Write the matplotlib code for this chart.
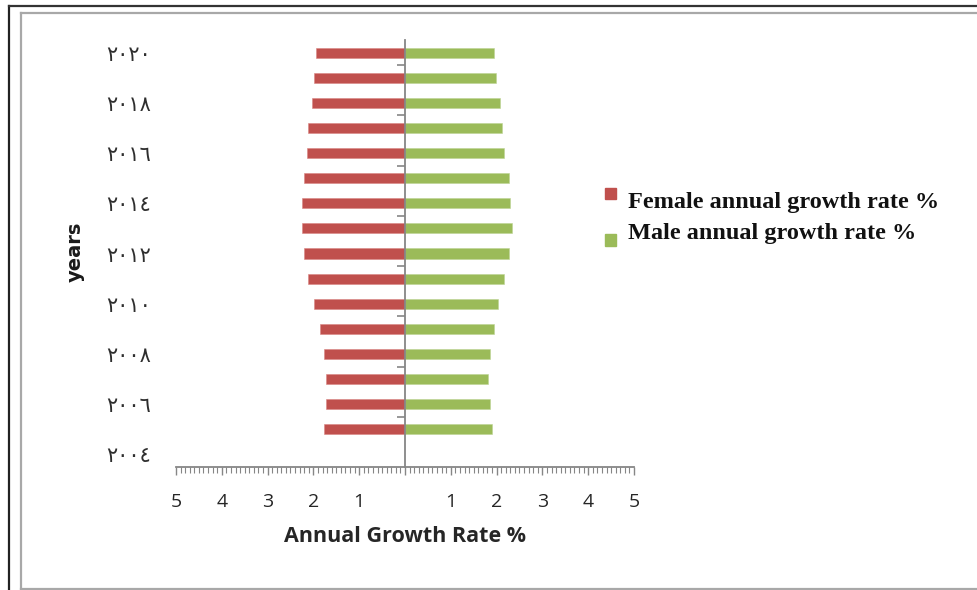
import matplotlib
matplotlib.use("Agg")
import matplotlib.pyplot as plt
import numpy as np
from matplotlib.lines import Line2D
from matplotlib.patches import Rectangle

# Categories (years) and their Arabic-Indic labels
years = [2004, 2005, 2006, 2007, 2008, 2009, 2010, 2011, 2012,
         2013, 2014, 2015, 2016, 2017, 2018, 2019, 2020]
year_labels = ["٢٠٠٤", "٢٠٠٥", "٢٠٠٦", "٢٠٠٧", "٢٠٠٨", "٢٠٠٩", "٢٠١٠", "٢٠١١", "٢٠١٢",
               "٢٠١٣", "٢٠١٤", "٢٠١٥", "٢٠١٦", "٢٠١٧", "٢٠١٨", "٢٠١٩", "٢٠٢٠"]

# Annual growth rates (%); 2004 has no value
female_rate = [np.nan, 1.76, 1.72, 1.72, 1.76, 1.85, 1.98, 2.11, 2.20,
               2.24, 2.24, 2.20, 2.15, 2.11, 2.02, 1.98, 1.94]
male_rate = [np.nan, 1.91, 1.86, 1.82, 1.86, 1.95, 2.04, 2.17, 2.26,
             2.34, 2.30, 2.26, 2.17, 2.12, 2.08, 1.99, 1.95]

x_ticks = [-5, -4, -3, -2, -1, 0, 1, 2, 3, 4, 5]
x_tick_labels = ["5", "4", "3", "2", "1", "", "1", "2", "3", "4", "5"]

series_labels = ["Female annual growth rate %", "Male annual growth rate %"]
colors = ["#C0504D", "#9BBB59"]
axis_gray = "#868686"

W, H = 977, 590
fig = plt.figure(figsize=(W / 100, H / 100), dpi=100)
fig.patch.set_facecolor("white")


def fx(px):
    return px / W


def fy(py):
    return 1 - py / H


# Window frame (dark outer line, gray chart-area border)
fig.add_artist(Line2D([fx(9), fx(9)], [fy(6), fy(590)], color="#222222", lw=1.6,
                      transform=fig.transFigure))
fig.add_artist(Line2D([fx(9), fx(977)], [fy(6), fy(6)], color="#333333", lw=1.6,
                      transform=fig.transFigure))
fig.add_artist(Line2D([fx(21), fx(21)], [fy(13), fy(589)], color="#A8A8A8", lw=1.6,
                      transform=fig.transFigure))
fig.add_artist(Line2D([fx(21), fx(977)], [fy(13), fy(13)], color="#A8A8A8", lw=1.6,
                      transform=fig.transFigure))
fig.add_artist(Line2D([fx(21), fx(977)], [fy(589), fy(589)], color="#A8A8A8", lw=1.6,
                      transform=fig.transFigure))

ax_left, ax_right, ax_top, ax_bottom = 176, 634, 40, 467
ax = fig.add_axes([fx(ax_left), fy(ax_bottom), fx(ax_right - ax_left),
                   (ax_bottom - ax_top) / H])

female_neg = [-v for v in female_rate]
ax.barh(years, female_neg, height=0.4, color=colors[0], edgecolor="#D98583",
        linewidth=0.4, zorder=2)
ax.barh(years, male_rate, height=0.4, color=colors[1], edgecolor="#BDD495",
        linewidth=0.4, zorder=2)

ax.set_xlim(-5, 5)
ax.set_ylim(years[0] - 0.5, years[-1] + 0.5)

for s in ("top", "right"):
    ax.spines[s].set_visible(False)
ax.spines["left"].set_position(("data", 0))
ax.spines["left"].set_color(axis_gray)
ax.spines["left"].set_linewidth(1.3)
ax.spines["left"].set_zorder(3)
ax.spines["bottom"].set_color(axis_gray)
ax.spines["bottom"].set_linewidth(1.3)

# x axis: major ticks every unit, minor every 0.1
ax.set_xticks(x_ticks)
ax.set_xticklabels(x_tick_labels, fontfamily="Open Sans", fontsize=14, color="#262626")
ax.set_xticks(np.arange(-5, 5.01, 0.1), minor=True)
ax.tick_params(axis="x", which="major", direction="out", length=6, width=1,
               color=axis_gray, pad=12.5)
ax.tick_params(axis="x", which="minor", direction="out", length=4.5, width=0.8,
               color=axis_gray)

# y axis: labels on every other year, tick marks at every other boundary
ax.set_yticks(years[::2])
ax.set_yticklabels(year_labels[::2], fontfamily="DejaVu Sans", fontweight="normal",
                   fontsize=15, color="#2e2e2e")
ax.set_yticks([y + 0.5 for y in years[1:-1:2]], minor=True)
ax.tick_params(axis="y", which="major", length=0, pad=183)
ax.tick_params(axis="y", which="minor", direction="out", length=5.8, width=1.2,
               color=axis_gray)

ax.set_xlabel("Annual Growth Rate %", fontfamily="Open Sans", fontweight="bold",
              fontsize=15.5, color="#262626")
ax.xaxis.set_label_coords(0.5, (ax_bottom - 526) / (ax_bottom - ax_top))

ax.set_ylabel("years", fontfamily="DejaVu Sans", fontweight="bold", fontsize=14,
              color="#1a1a1a", va="center")
ax.yaxis.set_label_coords((75 - ax_left) / (ax_right - ax_left),
                          (ax_bottom - 252) / (ax_bottom - ax_top))

# Legend drawn beside the plot
square = 11
for (cy, col) in ((193, colors[0]), (240, colors[1])):
    fig.add_artist(Rectangle((fx(610 - square / 2), fy(cy + square / 2)),
                             square / W, square / H, color=col,
                             transform=fig.transFigure))
for (by, lab) in ((208, series_labels[0]), (239, series_labels[1])):
    fig.text(fx(628), fy(by), lab, fontfamily="Liberation Serif", fontweight="bold",
             fontsize=17.5, color="#111111", va="baseline", ha="left")

fig.savefig("out.png", dpi=100, facecolor="white")
